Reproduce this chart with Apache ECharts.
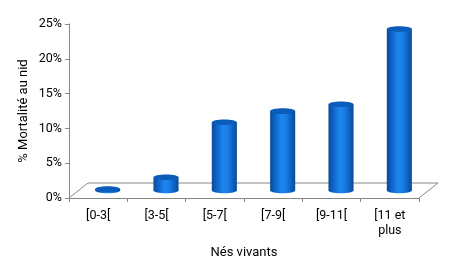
<!DOCTYPE html>
<html><head><meta charset="utf-8">
<script src="https://cdn.jsdelivr.net/npm/echarts@6/dist/echarts.min.js"></script>
<style>html,body{margin:0;padding:0;background:#fff}#c{width:450px;height:268px}</style>
</head><body><div id="c"></div>
<script>
const categories = ['[0-3[', '[3-5[', '[5-7[', '[7-9[', '[9-11[', '[11 et\nplus'];
const mortality = [0.2, 1.9, 9.8, 11.4, 12.4, 23.2];
const yTicks = [0, 5, 10, 15, 20, 25];

const DX = 19, DY = -15;
const FONT = 'Roboto, "Liberation Sans", Arial, sans-serif';
const bodyGrad = {type:'linear', x:0, y:0, x2:1, y2:0, colorStops:[
  {offset:0, color:'#0a4a96'},{offset:0.18, color:'#0c62c6'},{offset:0.45, color:'#1e86ee'},
  {offset:0.62, color:'#1a7ee8'},{offset:0.85, color:'#0d5fbf'},{offset:1, color:'#0a4a96'}]};
const chart = echarts.init(document.getElementById('c'), null, {renderer:'canvas'});
chart.setOption({
  animation:false,
  grid:{left:69, right:31, top:24, bottom:70},
  xAxis:{type:'category', data:categories, boundaryGap:true,
    name:'Nés vivants', nameLocation:'middle', nameGap:48.5, nameMoveOverlap:false,
    nameTextStyle:{fontFamily:FONT, fontSize:13, color:'#000'},
    axisLine:{lineStyle:{color:'#868686'}},
    axisTick:{show:true, interval:0, length:4, alignWithLabel:false, lineStyle:{color:'#868686'}},
    axisLabel:{interval:0, fontFamily:FONT, fontSize:12.5, color:'#000', margin:10, lineHeight:15}},
  yAxis:{type:'value', min:0, max:25, interval:5,
    name:'% Mortalité au nid', nameLocation:'middle', nameGap:39, nameRotate:90, nameMoveOverlap:false,
    nameTextStyle:{fontFamily:FONT, fontSize:13, color:'#000'},
    axisLine:{show:true, lineStyle:{color:'#868686'}},
    axisTick:{show:true, length:4, lineStyle:{color:'#868686'}},
    splitLine:{show:false},
    axisLabel:{formatter: v => yTicks.includes(v) ? v + '%' : '', fontFamily:FONT, fontSize:12.5, color:'#000', margin:7}},
  series:[
    {type:'custom', data:[0], z:1, silent:true,
     renderItem:(params, api) => {
       const bw = api.size([1,0])[0];
       const p0 = api.coord([0,0]);
       const pN = api.coord([categories.length-1,0]);
       const xl = p0[0]-bw/2, xr = pN[0]+bw/2, y = p0[1];
       return {type:'polyline', shape:{points:[[xl,y],[xl+DX,y+DY],[xr+DX,y+DY],[xr,y]]},
         style:{stroke:'#868686', fill:null, lineWidth:1}};
     }},
    {type:'custom', data:mortality.map((v,i)=>[i,v]), z:2,
     renderItem:(params, api) => {
       const i = api.value(0), v = api.value(1);
       const top = api.coord([i, v]);
       const bot = api.coord([i, 0]);
       const bw = api.size([1,0])[0];
       const w = bw*0.43, rx = w/2, ry = 2.8;
       const cx = top[0] + DX/2;
       const yb = bot[1] + DY/2, yt = top[1] + DY/2;
       return {type:'group', children:[
         {type:'ellipse', shape:{cx:cx, cy:yb, rx:rx, ry:ry}, style:{fill:bodyGrad}},
         {type:'rect', shape:{x:cx-rx, y:yt, width:w, height:Math.max(0,yb-yt)}, style:{fill:bodyGrad}},
         {type:'ellipse', shape:{cx:cx, cy:yt, rx:rx, ry:ry}, style:{fill:'#0b5cb8'}}
       ]};
     }}
  ]
});
</script></body></html>
